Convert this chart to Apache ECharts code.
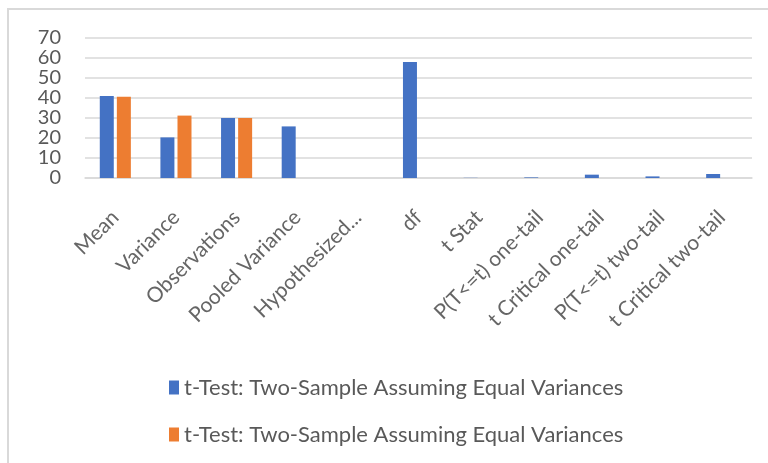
<!DOCTYPE html>
<html><head><meta charset="utf-8">
<script src="https://cdn.jsdelivr.net/npm/echarts@6/dist/echarts.min.js"></script>
<style>html,body{margin:0;padding:0;background:#fff}#c{width:768px;height:463px}</style>
</head><body><div id="c"></div>
<script>
const categories = ["Mean","Variance","Observations","Pooled Variance","Hypothesized...","df","t Stat","P(T<=t) one-tail","t Critical one-tail","P(T<=t) two-tail","t Critical two-tail"];
const seriesNames = ["t-Test: Two-Sample Assuming Equal Variances","t-Test: Two-Sample Assuming Equal Variances"];
const series1 = [41, 20.3, 30, 25.8, 0, 58, 0.1, 0.3, 1.67, 0.8, 2.0];
const series2 = [40.6, 31.2, 30, null, null, null, null, null, null, null, null];
const yTicks = [0, 10, 20, 30, 40, 50, 60, 70];

const chart = echarts.init(document.getElementById('c'));
const font = 'Lato, "Open Sans", sans-serif';
chart.setOption({
  animation: false,
  graphic: [{type:'polyline', shape:{points:[[8,463],[8,9],[768,9]]}, style:{stroke:'#d9d9d9', lineWidth:2, fill:null}}],
  grid: {left: 85, right: 16, top: 38, height: 140},
  legend: {
    orient: 'vertical', left: 164, top: 370, itemGap: 22, itemWidth: 10, itemHeight: 14,
    textStyle: {fontFamily: font, fontSize: 22, color: '#595959', lineHeight: 25},
    data: [{name: 'a', icon: 'rect'}, {name: 'b', icon: 'rect'}],
    formatter: n => n === 'a' ? seriesNames[0] : seriesNames[1]
  },
  xAxis: {
    type: 'category', data: categories,
    axisLine: {show: true, lineStyle: {color: '#d9d9d9', width: 1.5}},
    axisTick: {show: false},
    axisLabel: {interval: 0, rotate: 45, fontFamily: font, fontSize: 21, color: '#666666', margin: 36}
  },
  yAxis: {
    type: 'value', min: yTicks[0], max: yTicks[yTicks.length-1], interval: 10,
    axisLine: {show: false}, axisTick: {show: false},
    splitLine: {lineStyle: {color: '#d9d9d9', width: 1.5}},
    axisLabel: {fontFamily: font, fontSize: 20, color: '#595959', margin: 24}
  },
  series: [
    {name: 'a', type: 'bar', data: series1, barWidth: 14, barGap: '22%', itemStyle: {color: '#4472C4'}},
    {name: 'b', type: 'bar', data: series2, barWidth: 14, itemStyle: {color: '#ED7D31'}}
  ]
});
</script></body></html>
